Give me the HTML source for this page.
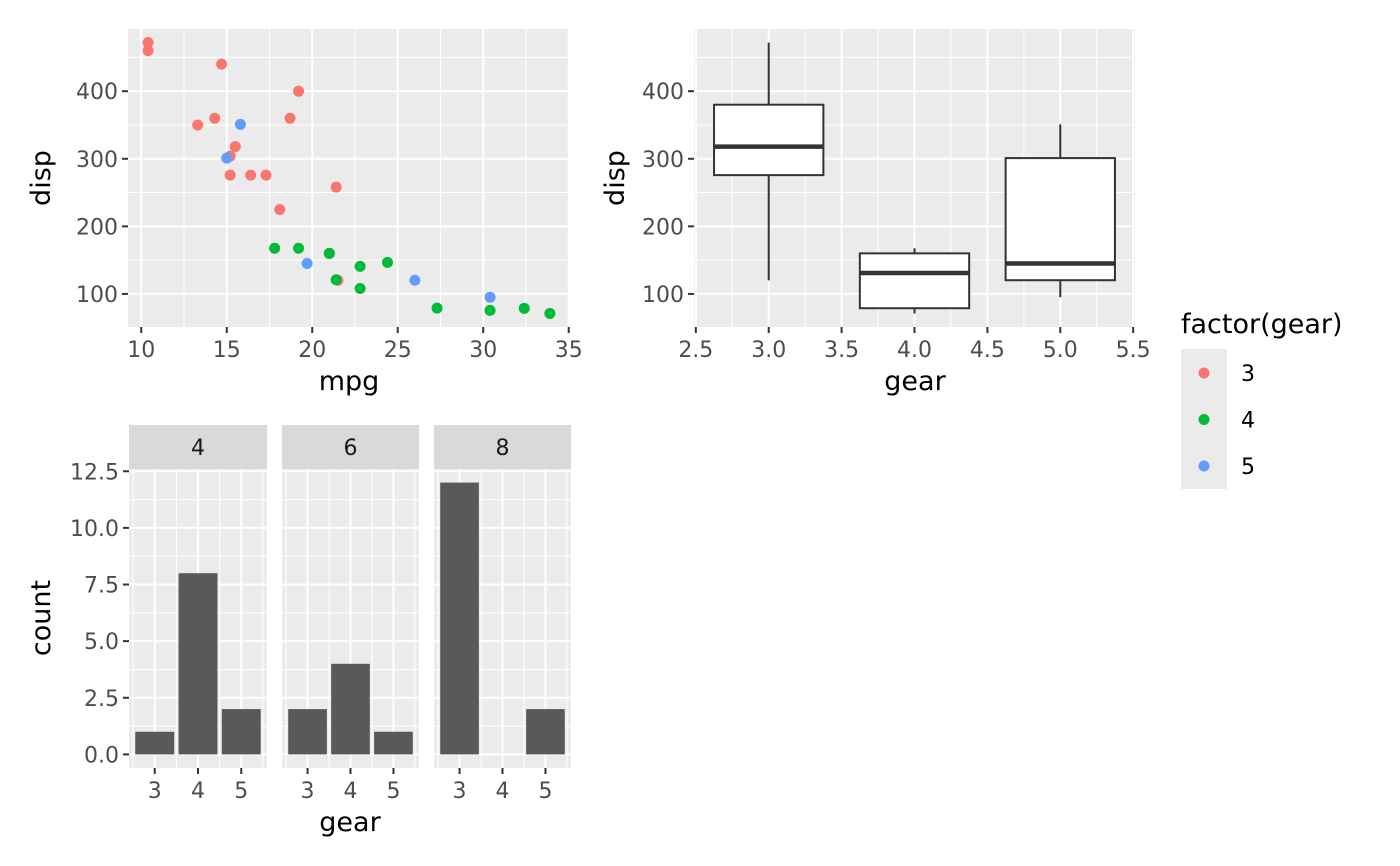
<!DOCTYPE html>
<html><head><meta charset="utf-8"><style>
html,body{margin:0;padding:0;background:#fff;width:1400px;height:866px;overflow:hidden}
svg text{font-family:"DejaVu Sans","Liberation Sans",sans-serif}
</style></head><body>
<svg id="c" width="1400" height="866" xmlns="http://www.w3.org/2000/svg"></svg>
<script>
// ---- data ----
const mpg=[21,21,22.8,21.4,18.7,18.1,14.3,24.4,22.8,19.2,17.8,16.4,17.3,15.2,10.4,10.4,14.7,32.4,30.4,33.9,21.5,15.5,15.2,13.3,19.2,27.3,26,30.4,15.8,19.7,15,21.4];
const disp=[160,160,108,258,360,225,360,146.7,140.8,167.6,167.6,275.8,275.8,275.8,472,460,440,78.7,75.7,71.1,120.1,318,304,350,400,79,120.3,95.1,351,145,301,121];
const gear=[4,4,4,3,3,3,3,4,4,4,4,3,3,3,3,3,3,4,4,4,3,3,3,3,3,4,5,5,5,5,5,4];
const gearLevels=[3,4,5];
const gearColors=["#F8766D","#00BA38","#619CFF"];
const boxLow=[120.1,71.1,95.1];
const boxQ1=[275.8,78.85,120.3];
const boxMed=[318,130.9,145];
const boxQ3=[380,160,301];
const boxHigh=[472,167.6,351];
const cylLevels=["4","6","8"];
const counts=[[1,8,2],[2,4,1],[12,0,2]];
const dispTicks=[100,200,300,400];
const mpgTicks=[10,15,20,25,30,35];
const gearTicks=[2.5,3.0,3.5,4.0,4.5,5.0,5.5];
const countTicks=[0,2.5,5,7.5,10,12.5];

const S=document.getElementById('c');const NS="http://www.w3.org/2000/svg";
function mk(t,a,p){const e=document.createElementNS(NS,t);for(const k in a)e.setAttribute(k,a[k]);(p||S).appendChild(e);return e;}
function txt(s,a,p){const e=mk('text',a,p);e.textContent=s;return e;}
function lin(d0,d1,r0,r1){return v=>r0+(v-d0)/(d1-d0)*(r1-r0);}

function panel(x0,y0,x1,y1,name){
  const g=mk('g',{});
  mk('rect',{x:x0,y:y0,width:x1-x0,height:y1-y0,fill:'#EBEBEB'},g);return g;}
function vgrid(g,X,vals,y0,y1,w){vals.forEach(v=>mk('line',{x1:X(v),x2:X(v),y1:y0,y2:y1,stroke:'#fff','stroke-width':w},g));}
function hgrid(g,Y,vals,x0,x1,w){vals.forEach(v=>mk('line',{y1:Y(v),y2:Y(v),x1:x0,x2:x1,stroke:'#fff','stroke-width':w},g));}
function xticks(X,vals,labels,y,g){vals.forEach((v,i)=>{mk('line',{x1:X(v),x2:X(v),y1:y,y2:y+6,stroke:'#333','stroke-width':2},g);
  const t=txt(labels[i],{x:X(v),y:y+30,'font-size':22,fill:'#4D4D4D','text-anchor':'middle'},g);});}
function yticks(Y,vals,labels,x,g){vals.forEach((v,i)=>{mk('line',{x1:x-6,x2:x,y1:Y(v),y2:Y(v),stroke:'#333','stroke-width':2},g);
  const t=txt(labels[i],{x:x-10,y:Y(v)+8,'font-size':22,fill:'#4D4D4D','text-anchor':'end'},g);});}
function title(s,x,y,rot,name){const a={x:x,y:y,'font-size':27,fill:'#000','text-anchor':'middle'};if(rot)a.transform=`rotate(-90 ${x} ${y})`;
  const t=txt(s,a);}

// ---- panel 1: scatter ----
{const x0=128,x1=570,y0=29,y1=327;
 const X=lin(9.225,35.075,x0,x1),Y=lin(51.05,492.05,y1,y0);
 const g=panel(x0,y0,x1,y1,'scatter-panel');
 vgrid(g,X,[12.5,17.5,22.5,27.5,32.5],y0,y1,1);hgrid(g,Y,[150,250,350,450],x0,x1,1);
 vgrid(g,X,mpgTicks,y0,y1,2);hgrid(g,Y,dispTicks,x0,x1,2);
 mpg.forEach((m,i)=>{const c=mk('circle',{cx:X(m),cy:Y(disp[i]),r:5.5,fill:gearColors[gearLevels.indexOf(gear[i])]},g);
  });
 xticks(X,mpgTicks,mpgTicks.map(String),y1);yticks(Y,dispTicks,dispTicks.map(String),x0);
 title('mpg',349,390,false,'x-axis-title');title('disp',50,178,true,'y-axis-title');}

// ---- panel 2: boxplot ----
{const x0=694,x1=1135,y0=29,y1=327;
 const X=lin(2.4875,5.5125,x0,x1),Y=lin(51.05,492.05,y1,y0);
 const g=panel(x0,y0,x1,y1,'boxplot-panel');
 vgrid(g,X,[2.75,3.25,3.75,4.25,4.75,5.25],y0,y1,1);hgrid(g,Y,[150,250,350,450],x0,x1,1);
 vgrid(g,X,gearTicks,y0,y1,2);hgrid(g,Y,dispTicks,x0,x1,2);
 gearLevels.forEach((gv,i)=>{const bg=mk('g',{},g);
  const a=X(gv-0.375),b=X(gv+0.375),cx=X(gv);
  mk('line',{x1:cx,x2:cx,y1:Y(boxHigh[i]),y2:Y(boxQ3[i]),stroke:'#333','stroke-width':2},bg);
  mk('line',{x1:cx,x2:cx,y1:Y(boxQ1[i]),y2:Y(boxLow[i]),stroke:'#333','stroke-width':2},bg);
  mk('rect',{x:a,y:Y(boxQ3[i]),width:b-a,height:Y(boxQ1[i])-Y(boxQ3[i]),fill:'#fff',stroke:'#333','stroke-width':2},bg);
  mk('line',{x1:a,x2:b,y1:Y(boxMed[i]),y2:Y(boxMed[i]),stroke:'#333','stroke-width':4.5},bg);});
 xticks(X,gearTicks,gearTicks.map(v=>v.toFixed(1)),y1);yticks(Y,dispTicks,dispTicks.map(String),x0);
 title('gear',915,390,false,'x-axis-title');title('disp',624,178,true,'y-axis-title');}

// ---- legend ----
{const g=mk('g',{});
 txt('factor(gear)',{x:1181,y:333,'font-size':27,fill:'#000'},g);
 mk('rect',{x:1181,y:349,width:46,height:140,fill:'#EBEBEB'},g);
 gearLevels.forEach((gv,i)=>{const y=373+i*46.5;const e=mk('g',{},g);
  mk('circle',{cx:1204,cy:y,r:5.5,fill:gearColors[i]},e);txt(String(gv),{x:1241,y:y+8,'font-size':22,fill:'#000'},e);});}

// ---- panel 3: facet bars ----
{const y0=469,y1=768;const Y=lin(-0.6,12.6,y1,y0);
 const fx=[[129,267],[282,419],[434,571]];
 cylLevels.forEach((cyl,f)=>{const [x0,x1]=fx[f];
  const X=lin(2.405,5.595,x0,x1);
  const st=mk('rect',{x:x0,y:425,width:x1-x0,height:44,fill:'#D9D9D9'});
  txt(cyl,{x:(x0+x1)/2,y:455,'font-size':22,fill:'#1A1A1A','text-anchor':'middle'});
  const g=panel(x0,y0,x1,y1,'bar-panel-cyl-'+cyl);
  hgrid(g,Y,[1.25,3.75,6.25,8.75,11.25],x0,x1,1);
  vgrid(g,X,[2.5,3.5,4.5,5.5],y0,y1,1);
  vgrid(g,X,gearLevels,y0,y1,2);hgrid(g,Y,countTicks,x0,x1,2);
  gearLevels.forEach((gv,i)=>{const v=counts[f][i];if(v<=0)return;
   const r=mk('rect',{x:X(gv-0.45),y:Y(v),width:X(gv+0.45)-X(gv-0.45),height:Y(0)-Y(v),fill:'#595959'},g);
   });
  xticks(X,gearLevels,gearLevels.map(String),y1);
  if(f===0)yticks(Y,countTicks,countTicks.map(v=>v.toFixed(1)),x0);});
 title('gear',350,831,false,'x-axis-title');title('count',50,618,true,'y-axis-title');}
</script>
</body></html>
